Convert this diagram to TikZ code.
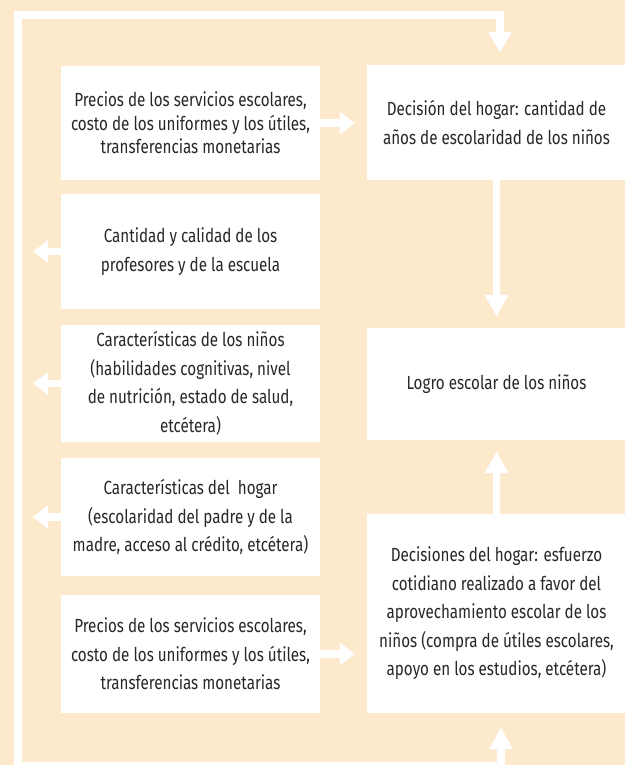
\documentclass[tikz,border=0pt]{standalone}
\usepackage{fontspec}
\setmainfont{Fira Sans}[FakeStretch=0.80]
\usetikzlibrary{arrows.meta}
\definecolor{durazno}{RGB}{253,233,204}
\definecolor{texto}{RGB}{40,40,40}
\begin{document}
\begin{tikzpicture}[x=1pt, y=-1pt,
  caja/.style={fill=white, inner sep=0pt, minimum width=259pt, align=center, text=texto, font=\fontsize{19}{28.5}\selectfont},
  flecha/.style={white, line width=7.5pt},
  hpunta/.style={-{Triangle[length=15pt,width=22pt]}},
  vpunta/.style={-{Triangle[length=22pt,width=22pt]}}]
\useasboundingbox (0,0) rectangle (625,765);
\clip (0,0) rectangle (625,765);
\fill[durazno] (0,0) rectangle (625,765);
% left column
\node[caja, minimum height=114pt, font=\fontsize{19}{23.5}\selectfont] (L1) at (190.5,123) {Precios de los servicios escolares,\\costo de los uniformes y los útiles,\\transferencias monetarias};
\node[caja, minimum height=115pt] (L2) at (190.5,251.5) {Cantidad y calidad de los\\profesores y de la escuela};
\node[caja, minimum height=117pt] (L3) at (190.5,383.5) {Características de los niños\\(habilidades cognitivas, nivel\\de nutrición, estado de salud,\\etcétera)};
\node[caja, minimum height=118pt] (L4) at (190.5,517) {Características del \ hogar\\(escolaridad del padre y de la\\madre, acceso al crédito, etcétera)};
\node[caja, minimum height=118pt] (L5) at (190.5,654) {Precios de los servicios escolares,\\costo de los uniformes y los útiles,\\transferencias monetarias};
% right column
\node[caja, minimum height=115pt] (R1) at (496.5,122.5) {Decisión del hogar: cantidad de\\años de escolaridad de los niños};
\node[caja, minimum height=112pt] (R2) at (496.5,384) {Logro escolar de los niños};
\node[caja, minimum height=199pt] (R3) at (496.5,613.5) {Decisiones del hogar: esfuerzo\\cotidiano realizado a favor del\\aprovechamiento escolar de los\\niños (compra de útiles escolares,\\apoyo en los estudios, etcétera)};
% frame
\coordinate (TL) at (18,15);
\coordinate (TR) at (500,15);
\coordinate (BL) at (18,766);
\coordinate (BR) at (501,766);
\draw[flecha, {Triangle[length=22pt,width=22pt]}-{Triangle[length=21pt,width=22pt]}, shorten <=14pt, shorten >=12pt]
  (BR |- R3.south) -- (BR) -- (BL) -- (TL) -- (TR) -- (TR |- R1.north);
% arrows
\draw[flecha, hpunta, shorten >=12pt] (L1.east) -- (L1.east -| R1.west);
\draw[flecha, hpunta, shorten >=12pt] (L5.east) -- (L5.east -| R3.west);
\draw[flecha, hpunta, shorten >=15pt] (L2.west) -- (L2.west -| TL);
\draw[flecha, hpunta, shorten >=15pt] (L3.west) -- (L3.west -| TL);
\draw[flecha, hpunta, shorten >=15pt] (L4.west) -- (L4.west -| TL);
\draw[flecha, vpunta, shorten >=11pt] (R1.south) -- (R2.north);
\draw[flecha, vpunta, shorten >=11pt] (R3.north) -- (R2.south);
\end{tikzpicture}
\end{document}
